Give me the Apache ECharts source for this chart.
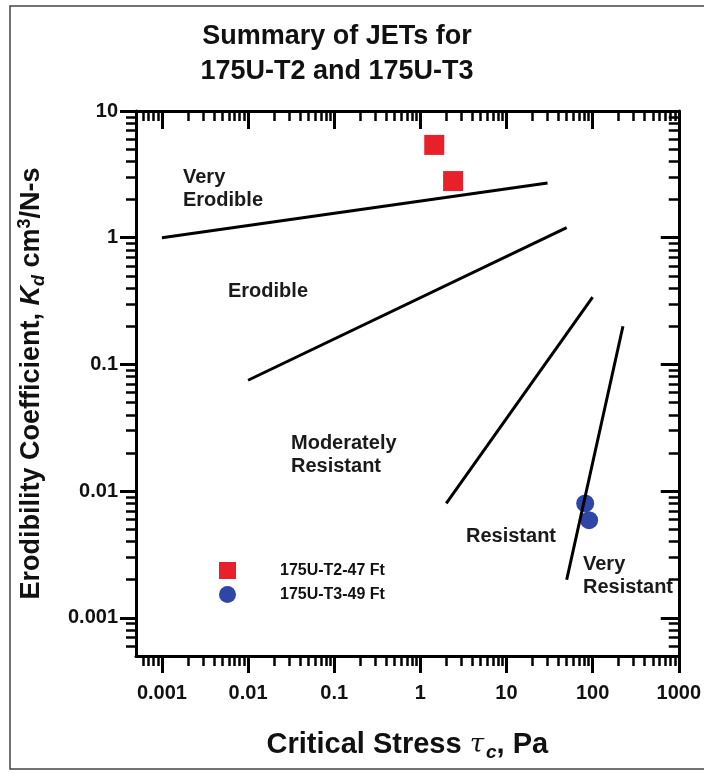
<!DOCTYPE html>
<html><head><meta charset="utf-8">
<script src="https://cdn.jsdelivr.net/npm/echarts@6.0.0/dist/echarts.min.js"></script>
<style>html,body{margin:0;padding:0;background:#fff}#c{width:704px;height:773px}</style>
</head><body><div id="c"></div>
<script>
const FONT = '"Liberation Sans", Arial, Helvetica, sans-serif';
const titleLines = ['Summary of JETs for', '175U-T2 and 175U-T3'];
const xTickValues = [0.001, 0.01, 0.1, 1, 10, 100, 1000];
const xTickLabels = ['0.001', '0.01', '0.1', '1', '10', '100', '1000'];
const yTickValues = [0.001, 0.01, 0.1, 1, 10];
const yTickLabels = ['0.001', '0.01', '0.1', '1', '10'];
const xRange = [0.0005, 1000];
const yRange = [0.0005, 10];
const seriesNames = ['175U-T2-47 Ft', '175U-T3-49 Ft'];
const t2Tau = [1.45, 2.4];
const t2Kd = [5.4, 2.8];
const t3Tau = [82, 91];
const t3Kd = [0.0080, 0.0059];
const boundaryTau = [[0.001, 30], [0.01, 50], [2, 100], [50, 225]];
const boundaryKd = [[1.0, 2.7], [0.075, 1.2], [0.008, 0.34], [0.002, 0.2]];
const regionLabels = ['Very\nErodible', 'Erodible', 'Moderately\nResistant', 'Resistant', 'Very\nResistant'];

function minorTicks(range) {
  const out = [];
  for (let e = -5; e <= 4; e++) {
    for (let k = 2; k <= 9; k++) {
      const v = +(k * Math.pow(10, e)).toPrecision(6);
      if (v > range[0] * 1.0001 && v < range[1] * 0.9999) out.push(v);
    }
  }
  return out;
}
function labelFor(values, labels) {
  return function (v) {
    for (let i = 0; i < values.length; i++) {
      if (Math.abs(Math.log10(values[i]) - Math.log10(v)) < 1e-6) return labels[i];
    }
    return '';
  };
}
const tickFont = { fontFamily: FONT, fontWeight: 'bold', fontSize: 20, color: '#111' };

function makeAxis(pos, range, values, len, width, inside, showLine, labelCfg, extra) {
  const ax = {
    type: 'log', logBase: 10, position: pos, min: range[0], max: range[1],
    axisLine: { show: showLine, onZero: false, lineStyle: { color: '#000', width: 3 } },
    axisTick: { show: true, inside: inside, length: len, customValues: values, lineStyle: { color: '#000', width: width } },
    axisLabel: labelCfg ? Object.assign({ show: true, customValues: values }, labelCfg) : { show: false },
    splitLine: { show: false }, minorTick: { show: false }, minorSplitLine: { show: false }
  };
  return Object.assign(ax, extra || {});
}
const xMinor = minorTicks(xRange);
const yMinor = minorTicks(yRange);

const xAxes = [
  makeAxis('bottom', xRange, xTickValues, 17, 3, false, true,
    Object.assign({ margin: 27, formatter: labelFor(xTickValues, xTickLabels) }, tickFont),
    {
      name: '{m|Critical Stress }{t|τ}{s|c}{m|, Pa}', nameLocation: 'middle', nameGap: 72,
      nameTextStyle: { rich: {
        m: { fontFamily: FONT, fontWeight: 'bold', fontSize: 29, color: '#111', lineHeight: 34, verticalAlign: 'middle' },
        t: { fontFamily: 'DejaVu Serif, serif', fontStyle: 'italic', fontWeight: 'normal', fontSize: 26, color: '#111', lineHeight: 34, verticalAlign: 'middle', padding: [0, 2, 0, 0] },
        s: { fontFamily: FONT, fontStyle: 'italic', fontWeight: 'bold', fontSize: 19, color: '#111', lineHeight: 19, verticalAlign: 'bottom' }
      } }
    }),
  makeAxis('bottom', xRange, xMinor, 10, 2.5, false, false, null),
  makeAxis('top', xRange, xTickValues, 18, 3, true, true, null),
  makeAxis('top', xRange, xMinor, 10, 2.5, true, false, null)
];
const yAxes = [
  makeAxis('left', yRange, yTickValues, 16, 3, false, true,
    Object.assign({ margin: 18, formatter: labelFor(yTickValues, yTickLabels) }, tickFont),
    {
      name: '{m|Erodibility Coefficient, }{i|K}{s|d}{m| cm}{p|3}{m|/N-s}', nameLocation: 'middle', nameGap: 88, nameRotate: 90,
      nameTextStyle: { rich: {
        m: { fontFamily: FONT, fontWeight: 'bold', fontSize: 27, color: '#111', lineHeight: 32, verticalAlign: 'middle' },
        i: { fontFamily: FONT, fontStyle: 'italic', fontWeight: 'bold', fontSize: 27, color: '#111', lineHeight: 32, verticalAlign: 'middle' },
        s: { fontFamily: FONT, fontStyle: 'italic', fontWeight: 'bold', fontSize: 18, color: '#111', lineHeight: 17, verticalAlign: 'bottom' },
        p: { fontFamily: FONT, fontWeight: 'bold', fontSize: 18, color: '#111', lineHeight: 17, verticalAlign: 'top' }
      } }
    }),
  makeAxis('left', yRange, yMinor, 10, 2.5, false, false, null),
  makeAxis('right', yRange, yTickValues, 18, 3, true, true, null),
  makeAxis('right', yRange, yMinor, 10, 2.5, true, false, null)
];

const series = [
  {
    name: seriesNames[0], type: 'scatter', symbol: 'rect', symbolSize: 20, z: 3,
    itemStyle: { color: '#e8202a', opacity: 1 },
    data: t2Tau.map((t, i) => [t, t2Kd[i]])
  },
  {
    name: seriesNames[1], type: 'scatter', symbol: 'circle', symbolSize: 18, z: 3,
    itemStyle: { color: '#2f46a6', opacity: 1 },
    data: t3Tau.map((t, i) => [t, t3Kd[i]])
  }
];
boundaryTau.forEach((taus, j) => {
  series.push({
    type: 'line', symbol: 'none', z: 4, silent: true,
    lineStyle: { color: '#000', width: 3 },
    data: taus.map((t, i) => [t, boundaryKd[j][i]])
  });
});

const labelStyle = { fontFamily: FONT, fontWeight: 'bold', fontSize: 20, fill: '#1a1a1a', lineHeight: 23 };
const regionPos = [[183, 166], [228, 280], [291, 432], [466, 525], [583, 553]];

const option = {
  backgroundColor: '#fff',
  animation: false,
  title: {
    text: titleLines.join('\n'), left: 337, top: 19, textAlign: 'center', padding: 0,
    textStyle: { fontFamily: FONT, fontWeight: 'bold', fontSize: 27, lineHeight: 35, color: '#111' }
  },
  grid: { left: 136, top: 111, width: 546, height: 545 },
  xAxis: xAxes,
  yAxis: yAxes,
  legend: {
    data: [{ name: seriesNames[0], icon: 'rect' }, { name: seriesNames[1], icon: 'circle' }],
    orient: 'vertical', left: 219, top: 562, itemWidth: 17, itemHeight: 17, itemGap: 7, padding: 0,
    formatter: '{t|{name}}',
    textStyle: { rich: { t: { fontFamily: FONT, fontWeight: 'bold', fontSize: 16, color: '#111', padding: [0, 0, 0, 39] } } }
  },
  graphic: [
    { type: 'rect', silent: true, shape: { x: 10, y: 6, width: 700, height: 763 }, style: { fill: 'none', stroke: '#444', lineWidth: 1.5 }, z: -1 }
  ].concat(regionLabels.map((t, i) => ({
    type: 'text', silent: true, x: regionPos[i][0], y: regionPos[i][1],
    style: Object.assign({ text: t }, labelStyle)
  }))),
  series: series
};
const chart = echarts.init(document.getElementById('c'), null, { renderer: 'canvas' });
chart.setOption(option);
</script>
</body></html>
